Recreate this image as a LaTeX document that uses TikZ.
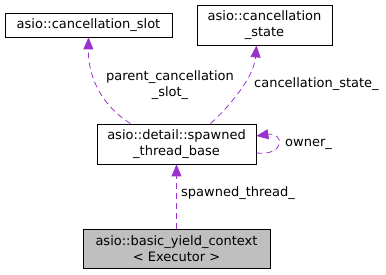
\documentclass[tikz,border=0pt]{standalone}
\usepackage{fontspec}
\setmainfont{DejaVu Sans}
\usetikzlibrary{arrows.meta}
\definecolor{linkpurple}{HTML}{9A32CD}
\definecolor{boxgray}{HTML}{BFBFBF}
\tikzset{
  classbox/.style={draw=black, line width=0.8pt, align=center, inner sep=0pt,
    font=\fontsize{13}{16}\selectfont},
  usage/.style={linkpurple, line width=0.8pt, dash pattern=on 6pt off 4pt,
    -{Triangle[length=12pt,width=10pt]}},
  usagelabel/.style={font=\fontsize{13}{15.5}\selectfont, align=center, inner sep=0pt}
}
\begin{document}
\begin{tikzpicture}[x=1pt,y=1pt]
    \useasboundingbox (0,0) rectangle (386,-275);
    %Members
    \node[classbox, minimum width=167pt, minimum height=24pt] (slot) at (88.5,-25) {asio::cancellation\_slot};
    \node[classbox, minimum width=135pt, minimum height=40pt] (state) at (264.5,-25) {asio::cancellation\\\_state};
    %Base
    \node[classbox, minimum width=159pt, minimum height=40pt] (base) at (176.5,-144) {asio::detail::spawned\\\_thread\_base};
    %Yield context
    \node[classbox, fill=boxgray, minimum width=187pt, minimum height=39pt] (yield) at (176.5,-248.5) {asio::basic\_yield\_context\\< Executor >};
    %Links
    \draw[usage] ([xshift=-46pt]base.north) .. controls (104,-107) and (88,-80) .. (slot.south);
    \draw[usage] ([xshift=34pt]base.north) .. controls (232,-104) and (254,-76) .. ([xshift=-8pt]state.south);
    \draw[usage] ([yshift=-9pt]base.east) .. controls (286,-156) and (284,-132) .. ([yshift=8pt]base.east);
    \draw[usage] (yield.north) -- (base.south);
    %Labels
    \node[usagelabel] (slotlabel) at (170,-85) {parent\_cancellation\\\_slot\_};
    \node[usagelabel, anchor=west] (statelabel) at (254,-84) {cancellation\_state\_};
    \node[usagelabel, anchor=west] (ownerlabel) at (285,-144) {owner\_};
    \node[usagelabel, anchor=west] (threadlabel) at (181,-193) {spawned\_thread\_};
\end{tikzpicture}
\end{document}
